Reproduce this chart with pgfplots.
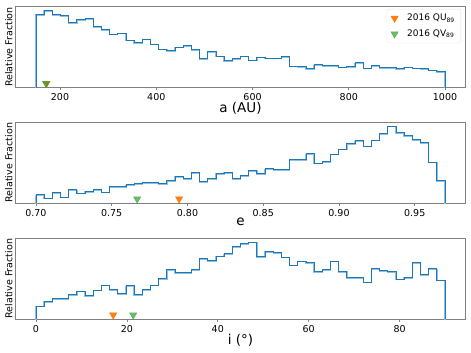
\documentclass[border=0pt]{standalone}
\usepackage{fontspec}
\setmainfont{DejaVu Sans}
\usepackage{pgfplots}
\pgfplotsset{compat=1.18}
\definecolor{hdark}{HTML}{1F77B4}
\definecolor{hlight}{HTML}{8CBFE3}
\definecolor{morange}{HTML}{FF7F0E}
\definecolor{mgreen}{HTML}{2CA02C}
\definecolor{spine}{HTML}{808080}
\definecolor{legedge}{HTML}{E4E4E4}
\pgfplotsset{
  myaxis/.style={
    scale only axis, width=450pt, height=80.8pt,
    anchor=south west,
    axis line style={spine, line width=0.7pt},
    ytick=\empty, ymin=0,
    tick align=outside,
    xtick pos=left,
    xtick style={spine, line width=0.7pt},
    major tick length=2.5pt,
    ticklabel style={font=\fontsize{9.5}{11}\selectfont},
    /pgf/number format/assume math mode=true,
    /pgf/number format/1000 sep={},
    ylabel={Relative Fraction},
    ylabel style={font=\fontsize{9.5}{11}\selectfont, at={(axis description cs:-0.0067,0.5)}, anchor=base, inner sep=0pt},
    xlabel style={font=\fontsize{13.5}{15}\selectfont, at={(axis description cs:0.5,0)}, anchor=north, inner sep=0pt, yshift=-14.8pt},
    clip=false,
  },
  hlt/.style={const plot, hlight, line width=1.4pt, forget plot, yshift=-0.6pt},
  hdk/.style={const plot, hdark, line width=0.9pt, forget plot},
  mko/.style={only marks, mark=triangle*, mark size=4.2pt, mark options={rotate=180, fill=morange, draw=morange}},
  mkg/.style={only marks, mark=triangle*, mark size=4.2pt, mark options={rotate=180, fill=mgreen, draw=mgreen, fill opacity=0.7, draw opacity=0.7}},
}
\begin{document}
\begin{tikzpicture}
\path[use as bounding box] (0,0) rectangle (471pt,-353pt);
% ---------- a ----------
\begin{axis}[myaxis, at={(15.5pt,-87.5pt)},
  xmin=107.5, xmax=1042.5, ymax=241.5,
  xtick={200,400,600,800,1000},
  xlabel={a (AU)},
  legend style={at={(0.99,0.972)}, anchor=north east, draw=legedge, rounded corners=2pt,
    fill=white, font=\fontsize{9}{11}\selectfont, row sep=3.5pt, inner xsep=4pt, inner ysep=3pt,
    /tikz/every odd column/.append style={column sep=7pt}},
  legend cell align=left,
]
\addplot[hlt] coordinates {(150,0) (150,218) (167,230) (184,218) (201,216) (218,193) (235,202) (252,205) (269,181) (286,174) (303,160) (320,163) (337,142) (354,135) (371,145) (388,130) (405,115) (422,111) (439,121) (456,126) (473,114) (490,86) (507,107) (524,94) (541,80) (558,87) (575,94) (592,82) (609,91) (626,88) (643,88) (660,93) (677,64) (694,63) (711,57) (728,68) (745,66) (762,66) (779,61) (796,63) (813,74) (830,58) (847,66) (864,59) (881,60) (898,56) (915,61) (932,58) (949,56) (966,52) (983,47) (1000,47) (1000,0)};
\addplot[hdk] coordinates {(150,0) (150,218) (167,230) (184,218) (201,216) (218,193) (235,202) (252,205) (269,181) (286,174) (303,160) (320,163) (337,142) (354,135) (371,145) (388,130) (405,115) (422,111) (439,121) (456,126) (473,114) (490,86) (507,107) (524,94) (541,80) (558,87) (575,94) (592,82) (609,91) (626,88) (643,88) (660,93) (677,64) (694,63) (711,57) (728,68) (745,66) (762,66) (779,61) (796,63) (813,74) (830,58) (847,66) (864,59) (881,60) (898,56) (915,61) (932,58) (949,56) (966,52) (983,47) (1000,47) (1000,0)};
\addplot[mko] coordinates {(172,12)};
\addlegendentry{2016 QU\textsubscript{89}}
\addplot[mkg] coordinates {(171,12)};
\addlegendentry{2016 QV\textsubscript{89}}
\end{axis}
% ---------- e ----------
\begin{axis}[myaxis, at={(15.5pt,-203pt)},
  xmin=0.6865, xmax=0.9835, ymax=241.5,
  xtick={0.70,0.75,0.80,0.85,0.90,0.95},
  xticklabel style={/pgf/number format/.cd, fixed, fixed zerofill, precision=2},
  xlabel={e},
]
\addplot[hlt] coordinates {(0.7000,0) (0.7000,25) (0.7054,15) (0.7108,32) (0.7162,18) (0.7216,40) (0.7270,30) (0.7324,35) (0.7378,40) (0.7432,33) (0.7486,50) (0.7540,49) (0.7594,54) (0.7648,57) (0.7702,62) (0.7756,61) (0.7810,58) (0.7864,68) (0.7918,79) (0.7972,74) (0.8026,91) (0.8080,64) (0.8134,74) (0.8188,89) (0.8242,92) (0.8296,74) (0.8350,83) (0.8404,97) (0.8458,87) (0.8512,102) (0.8566,99) (0.8620,99) (0.8674,130) (0.8728,129) (0.8782,147) (0.8836,119) (0.8890,124) (0.8944,146) (0.8998,161) (0.9052,178) (0.9106,186) (0.9160,170) (0.9214,188) (0.9268,208) (0.9322,230) (0.9376,211) (0.9430,202) (0.9484,189) (0.9538,181) (0.9592,122) (0.9646,67) (0.9700,67) (0.9700,0)};
\addplot[hdk] coordinates {(0.7000,0) (0.7000,25) (0.7054,15) (0.7108,32) (0.7162,18) (0.7216,40) (0.7270,30) (0.7324,35) (0.7378,40) (0.7432,33) (0.7486,50) (0.7540,49) (0.7594,54) (0.7648,57) (0.7702,62) (0.7756,61) (0.7810,58) (0.7864,68) (0.7918,79) (0.7972,74) (0.8026,91) (0.8080,64) (0.8134,74) (0.8188,89) (0.8242,92) (0.8296,74) (0.8350,83) (0.8404,97) (0.8458,87) (0.8512,102) (0.8566,99) (0.8620,99) (0.8674,130) (0.8728,129) (0.8782,147) (0.8836,119) (0.8890,124) (0.8944,146) (0.8998,161) (0.9052,178) (0.9106,186) (0.9160,170) (0.9214,188) (0.9268,208) (0.9322,230) (0.9376,211) (0.9430,202) (0.9484,189) (0.9538,181) (0.9592,122) (0.9646,67) (0.9700,67) (0.9700,0)};
\addplot[mko] coordinates {(0.7945,12)};
\addplot[mkg] coordinates {(0.7668,12)};
\end{axis}
% ---------- i ----------
\begin{axis}[myaxis, at={(15.5pt,-319pt)},
  xmin=-4.5, xmax=94.5, ymax=242.6,
  xtick={0,20,40,60,80},
  xlabel={i (°)},
]
\addplot[hlt] coordinates {(0,0) (0,39) (1.8,53) (3.6,62) (5.4,61) (7.2,73) (9.0,84) (10.8,70) (12.6,87) (14.4,102) (16.2,89) (18.0,77) (19.8,100) (21.6,74) (23.4,89) (25.2,102) (27.0,121) (28.8,148) (30.6,139) (32.4,139) (34.2,148) (36.0,181) (37.8,176) (39.6,189) (41.4,196) (43.2,218) (45.0,227) (46.8,231) (48.6,188) (50.4,203) (52.2,200) (54.0,186) (55.8,162) (57.6,174) (59.4,169) (61.2,143) (63.0,148) (64.8,174) (66.6,143) (68.4,124) (70.2,124) (72.0,111) (73.8,151) (75.6,146) (77.4,142) (79.2,120) (81.0,125) (82.8,170) (84.6,133) (86.4,151) (88.2,117) (90,117) (90,0)};
\addplot[hdk] coordinates {(0,0) (0,39) (1.8,53) (3.6,62) (5.4,61) (7.2,73) (9.0,84) (10.8,70) (12.6,87) (14.4,102) (16.2,89) (18.0,77) (19.8,100) (21.6,74) (23.4,89) (25.2,102) (27.0,121) (28.8,148) (30.6,139) (32.4,139) (34.2,148) (36.0,181) (37.8,176) (39.6,189) (41.4,196) (43.2,218) (45.0,227) (46.8,231) (48.6,188) (50.4,203) (52.2,200) (54.0,186) (55.8,162) (57.6,174) (59.4,169) (61.2,143) (63.0,148) (64.8,174) (66.6,143) (68.4,124) (70.2,124) (72.0,111) (73.8,151) (75.6,146) (77.4,142) (79.2,120) (81.0,125) (82.8,170) (84.6,133) (86.4,151) (88.2,117) (90,117) (90,0)};
\addplot[mko] coordinates {(17.0,12)};
\addplot[mkg] coordinates {(21.4,12)};
\end{axis}
\end{tikzpicture}
\end{document}
